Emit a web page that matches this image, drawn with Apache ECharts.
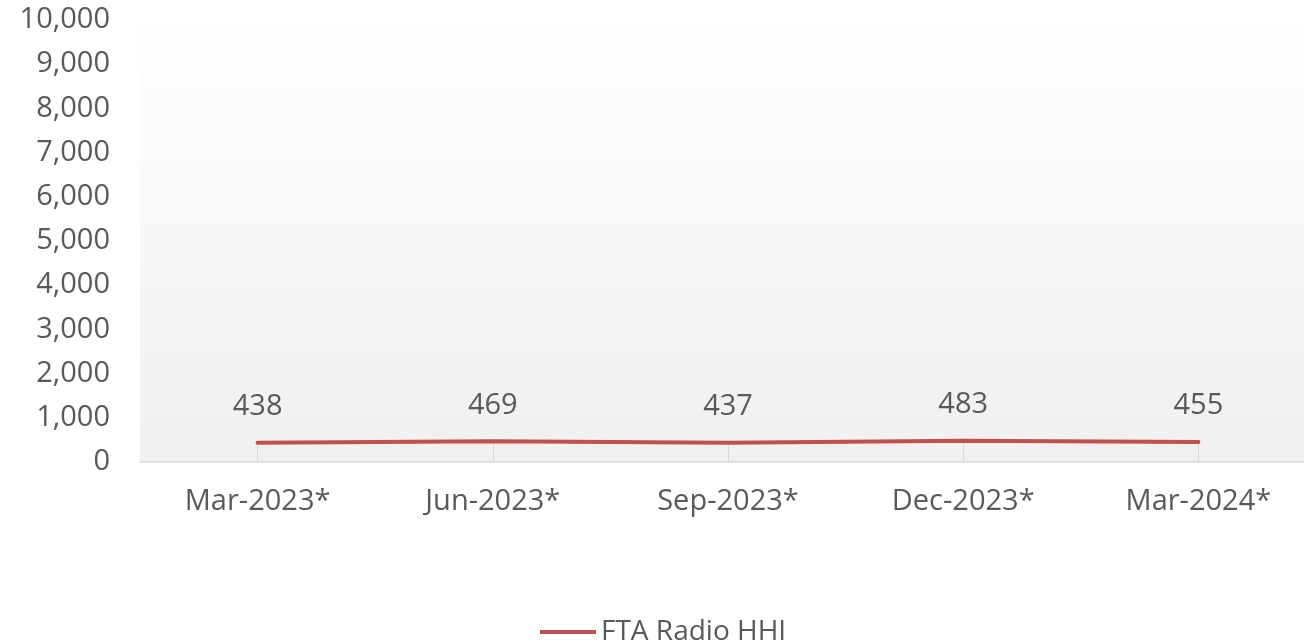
<!DOCTYPE html>
<html>
<head>
    <meta charset="utf-8">
    <title>FTA Radio HHI</title>
    <script src="https://cdn.jsdelivr.net/npm/echarts@6/dist/echarts.min.js"></script>
    <style>
        html, body { margin: 0; padding: 0; background: #fff; }
    </style>
</head>
<body>
<div id="main" style="width: 1304px;height:641px;"></div>
<script type="text/javascript">
    // data
    var categories = ['Mar-2023*', 'Jun-2023*', 'Sep-2023*', 'Dec-2023*', 'Mar-2024*'];
    var hhiValues = [438, 469, 437, 483, 455];
    var seriesName = 'FTA Radio HHI';

    var textColor = '#595959';
    var fontName = '"Open Sans", "Noto Sans", sans-serif';

    var myChart = echarts.init(document.getElementById('main'));

    myChart.setOption({
        animation: false,
        textStyle: { fontFamily: fontName },
        grid: {
            left: 140,
            width: 1176,
            top: 20,
            bottom: 179,
            outerBoundsMode: 'none',
            show: true,
            borderWidth: 0,
            backgroundColor: new echarts.graphic.LinearGradient(0, 0, 0, 1, [
                { offset: 0, color: '#ffffff' },
                { offset: 1, color: '#f0f0f0' }
            ])
        },
        legend: {
            data: [seriesName],
            top: 613,
            left: 535,
            icon: 'rect',
            itemWidth: 56,
            itemHeight: 4,
            itemGap: 4,
            itemStyle: { color: '#c0504d', opacity: 1 },
            textStyle: { color: textColor, fontSize: 28, fontFamily: fontName }
        },
        xAxis: {
            type: 'category',
            data: categories,
            boundaryGap: true,
            axisLine: { lineStyle: { color: '#d9d9d9', width: 1.5 } },
            axisTick: { show: true, inside: true, alignWithLabel: true, length: 19, lineStyle: { color: '#d9d9d9' } },
            axisLabel: { color: textColor, fontSize: 29, margin: 25 }
        },
        yAxis: {
            type: 'value',
            min: 0,
            max: 10000,
            interval: 1000,
            axisLine: { show: false },
            axisTick: { show: false },
            splitLine: { show: false },
            axisLabel: {
                color: textColor,
                fontSize: 29,
                margin: 30,
                formatter: function (v) { return v.toLocaleString('en-US'); }
            }
        },
        series: [{
            name: seriesName,
            type: 'line',
            data: hhiValues,
            symbol: 'circle',
            symbolSize: 1,
            showSymbol: true,
            lineStyle: { color: '#c0504d', width: 4, cap: 'round' },
            itemStyle: { color: '#c0504d' },
            label: {
                show: true,
                position: 'top',
                distance: 21,
                color: textColor,
                fontSize: 29
            }
        }]
    });
</script>
</body>
</html>
